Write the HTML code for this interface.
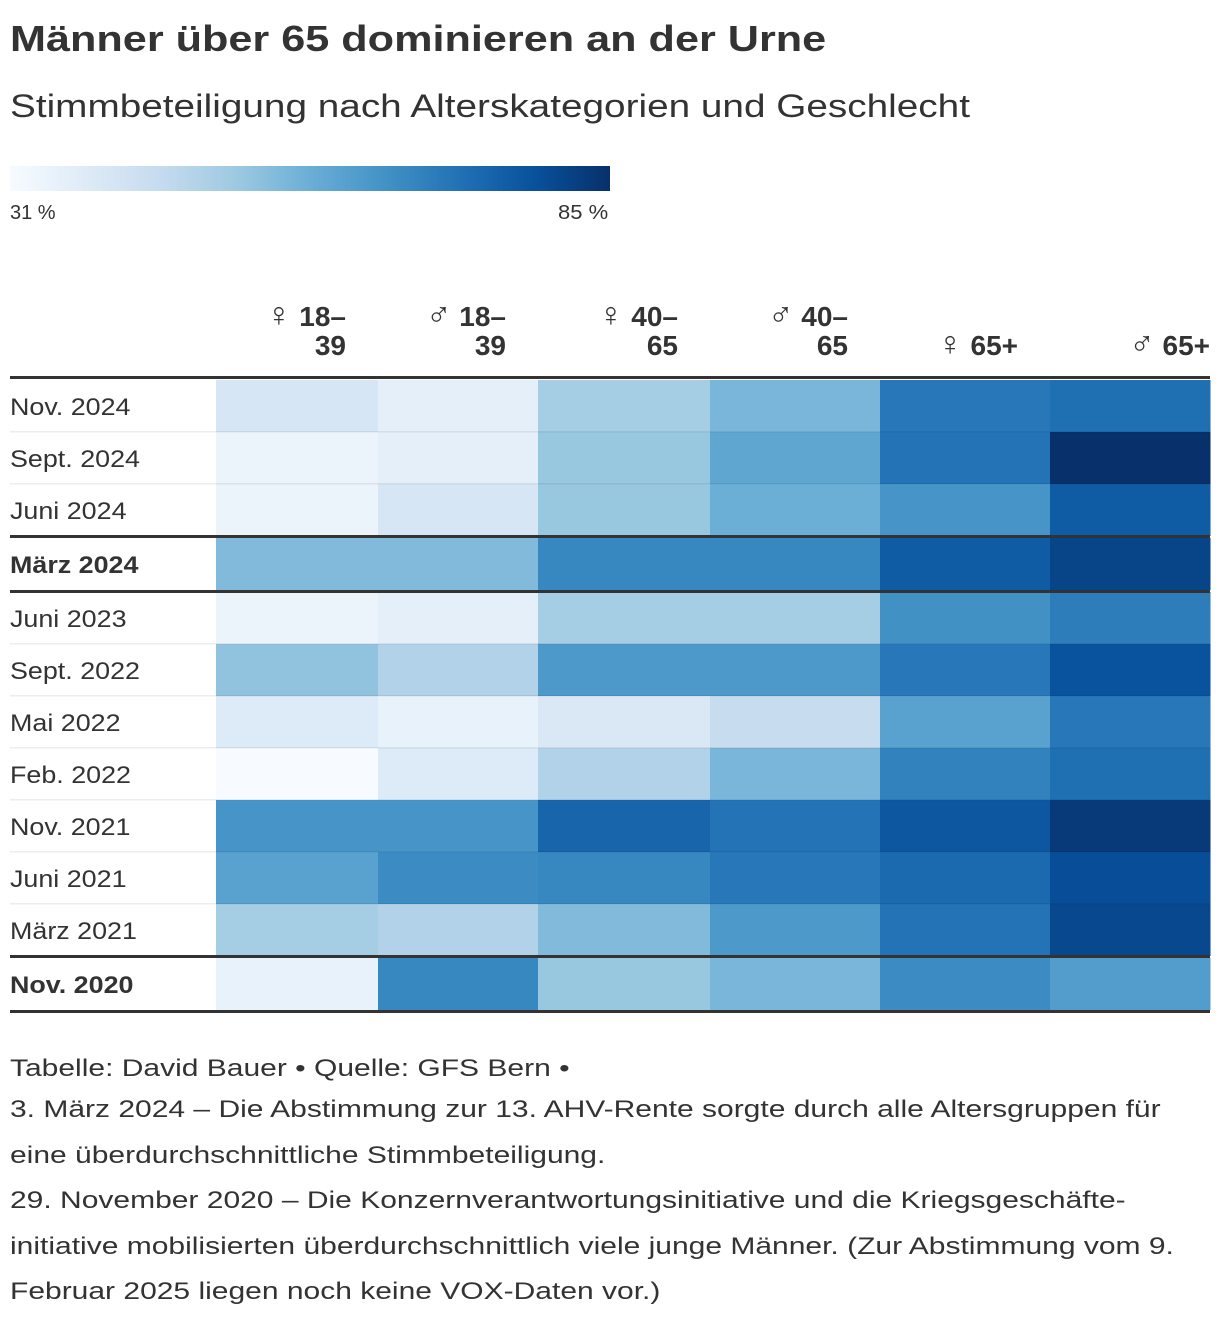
<!DOCTYPE html>
<html><head><meta charset="utf-8">
<style>
body{margin:0;background:#fff;font-family:"Liberation Sans","DejaVu Sans",sans-serif;color:#222;}
#wrap{position:relative;width:1220px;height:1326px;overflow:hidden;}
.t{position:absolute;white-space:nowrap;transform-origin:0 0;}
.fl{position:absolute;left:10px;white-space:nowrap;font-size:24px;color:#333;transform-origin:0 0;transform:scaleX(1.25);}
</style></head>
<body>
<div id="wrap">
<div class="t" style="left:10px;top:18px;font-size:36px;font-weight:bold;color:#333;transform:scaleX(1.2);">Männer über 65 dominieren an der Urne</div>
<div class="t" style="left:10px;top:88px;font-size:32px;color:#333;transform:scaleX(1.21);">Stimmbeteiligung nach Alterskategorien und Geschlecht</div>
<div style="position:absolute;left:10px;top:166px;width:600px;height:25px;background:linear-gradient(to right,#f7fbff,#deebf7,#c6dbef,#9ecae1,#6baed6,#4292c6,#2171b5,#08519c,#08306b);"></div>
<div class="t" style="left:10px;top:202px;font-size:20px;color:#333;">31 %</div>
<div class="t" style="left:558px;top:202px;font-size:20px;color:#333;transform:scaleX(1.1);">85 %</div>
<svg id="hm" width="1220" height="1030" style="position:absolute;left:0;top:0"></svg>
<div>
<div class="fl" style="top:1055px">Tabelle: David Bauer • Quelle: GFS Bern •</div>
<div class="fl" style="top:1096px">3. März 2024 – Die Abstimmung zur 13. AHV-Rente sorgte durch alle Altersgruppen für</div>
<div class="fl" style="top:1142px">eine überdurchschnittliche Stimmbeteiligung.</div>
<div class="fl" style="top:1187px">29. November 2020 – Die Konzernverantwortungsinitiative und die Kriegsgeschäfte-</div>
<div class="fl" style="top:1233px">initiative mobilisierten überdurchschnittlich viele junge Männer. (Zur Abstimmung vom 9.</div>
<div class="fl" style="top:1278px">Februar 2025 liegen noch keine VOX-Daten vor.)</div>
</div>
</div>
<script>
const columns=["♀|18–|39","♂|18–|39","♀|40–|65","♂|40–|65","♀|65+|","♂|65+|"];
const rowLabels=["Nov. 2024","Sept. 2024","Juni 2024","März 2024","Juni 2023","Sept. 2022","Mai 2022","Feb. 2022","Nov. 2021","Juni 2021","März 2021","Nov. 2020"];
const boldRows=["März 2024","Nov. 2020"];
const rowValues=[
[40,36,50,56,70,72],
[34,36,52,60,71,85],
[34,40,52,58,64,76],
[55,55,67,67,76,81],
[34,36,50,50,65,69],
[53,48,63,63,70,78],
[38,35,39,44,61,70],
[31,38,48,56,68,72],
[64,64,74,71,77,83],
[61,66,67,70,73,79],
[50,48,55,63,71,80],
[35,67,52,56,66,62]];
const vMin=31,vMax=85;
const stops=["#f7fbff","#deebf7","#c6dbef","#9ecae1","#6baed6","#4292c6","#2171b5","#08519c","#08306b"];
function hex(h){return [1,3,5].map(i=>parseInt(h.substr(i,2),16));}
function color(v){let t=Math.max(0,Math.min(1,(v-vMin)/(vMax-vMin)))*(stops.length-1);let i=Math.min(Math.floor(t),stops.length-2),f=t-i;let a=hex(stops[i]),b=hex(stops[i+1]);return "rgb("+a.map((x,k)=>Math.round(x+(b[k]-x)*f)).join(",")+")";}
const colEdges=[216,378,538,710,880,1050,1210];
function xs(i){return colEdges[i];}
const svg=document.getElementById('hm');const NS="http://www.w3.org/2000/svg";
function mk(tag,attrs){const e=document.createElementNS(NS,tag);for(const k in attrs)e.setAttribute(k,attrs[k]);svg.appendChild(e);return e;}
columns.forEach((c,i)=>{const p=c.split("|");const xr=xs(i+1)-(i==5?0:32);
  const two=p[2]!=="";
  const t=mk('text',{x:xr,y:two?326:355,'text-anchor':'end','font-size':28,'font-weight':'bold',fill:'#333'});
  t.innerHTML='<tspan font-size="34" font-weight="normal">'+p[0]+'</tspan> '+p[1];
  
  
  if(two){const t2=mk('text',{x:xr,y:355,'text-anchor':'end','font-size':28,'font-weight':'bold',fill:'#333'});t2.textContent=p[2];
    
    }
});
let y=380;const rh=52;const lines=[[376,3,'#333']];
rowLabels.forEach((lab,r)=>{
  const bold=boldRows.includes(lab);
  if(bold&&r>0){lines.push([y-1,3,'#333']);y+=2;}
  rowValues[r].forEach((v,c)=>{const rc=mk('rect',{x:xs(c),y:y,width:xs(c+1)-xs(c)+0.5,height:rh,fill:color(v)});
    
    });
  const t=mk('text',{x:10,y:y+35,'font-size':24,fill:'#333','font-weight':bold?'bold':'normal',transform:'translate(10,0) scale(1.12,1) translate(-10,0)'});t.textContent=lab;
  
  
  y+=rh;
  const next=rowLabels[r+1];
  if(bold){lines.push([y,3,'#333']);y+=2;}
  else if(next&&!boldRows.includes(next)){lines.push([y-1,1.5,'rgba(0,0,0,0.07)']);}
});
lines.forEach(l=>{const e=mk('rect',{x:10,y:l[0],width:1200,height:l[1],fill:l[2]});
  
  });
</script>
</body></html>
